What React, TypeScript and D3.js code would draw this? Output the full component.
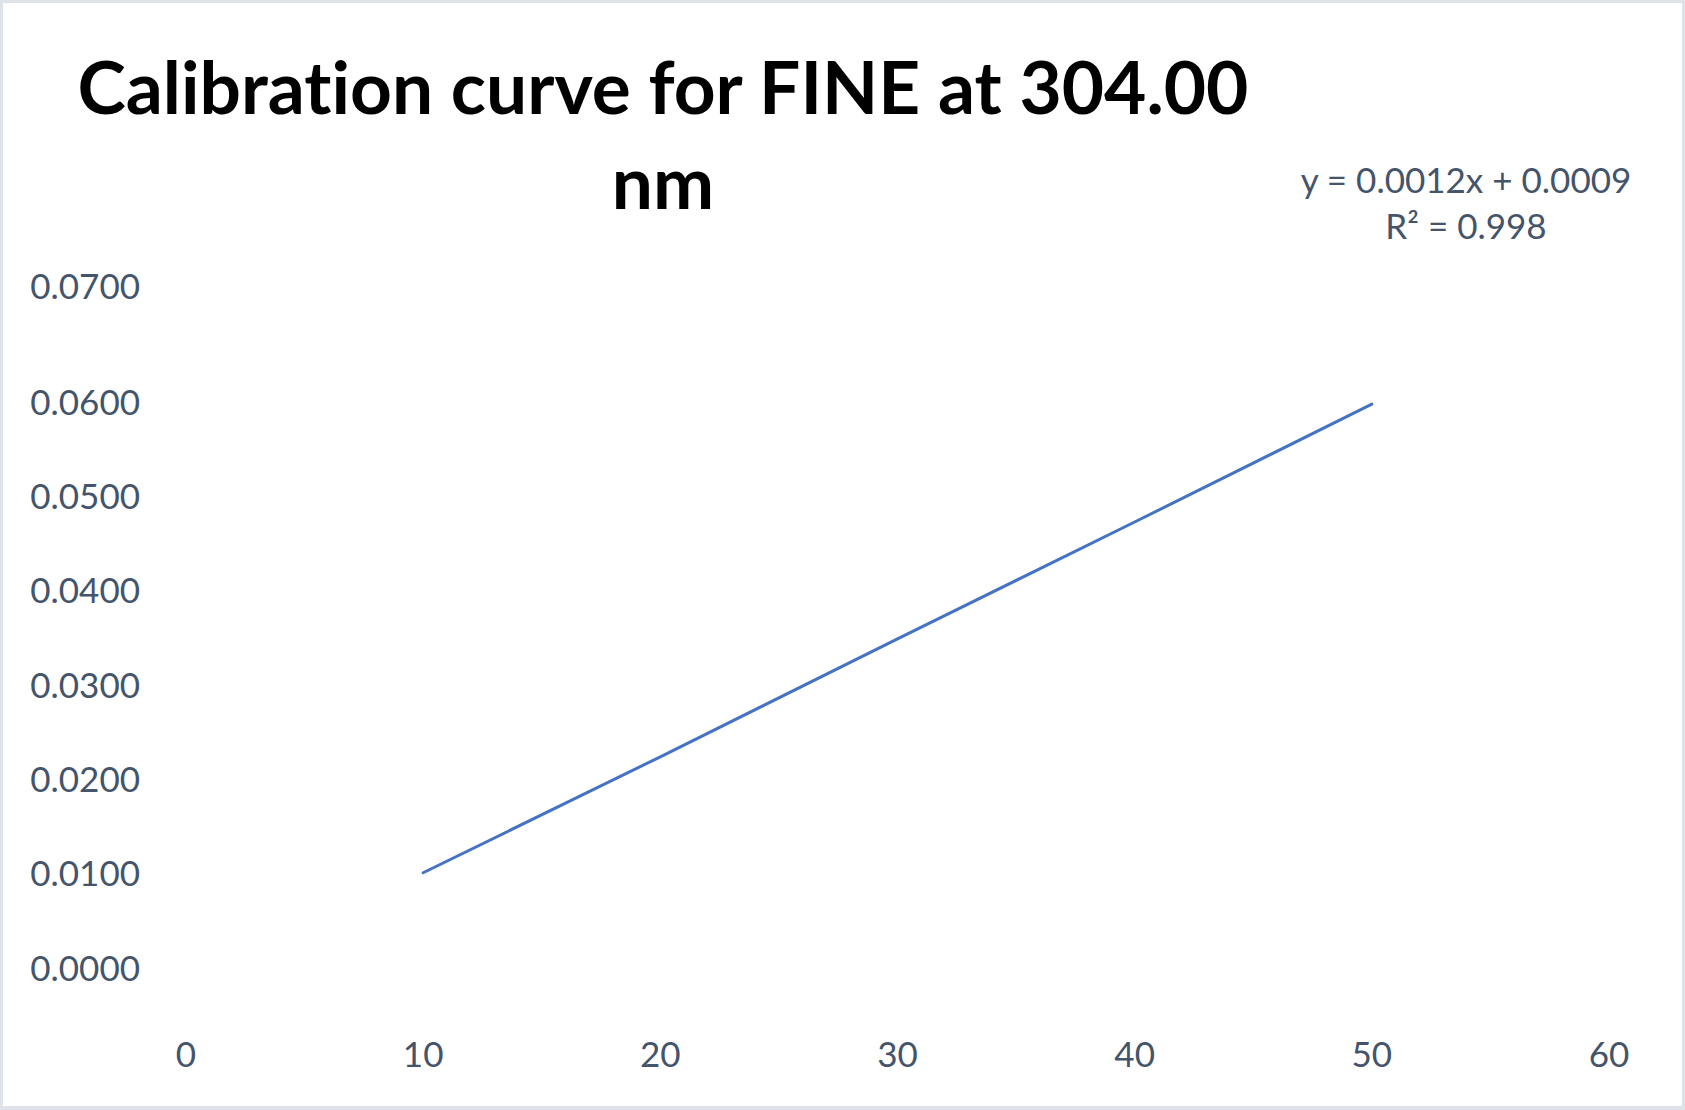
import { useEffect, useRef } from 'react';
import * as d3 from 'd3';

const W = 1685, H = 1110;

const concentration = [10, 20, 30, 40, 50];
const absorbance = [0.0101, 0.0224, 0.0349, 0.0473, 0.0598];

const xTicks = [0, 10, 20, 30, 40, 50, 60];
const yTicks = [0, 0.01, 0.02, 0.03, 0.04, 0.05, 0.06, 0.07];

const titleLines = ['Calibration curve for FINE at 304.00', 'nm'];
const equationLines = ['y = 0.0012x + 0.0009', 'R² = 0.998'];

export default function App() {
  const svgRef = useRef<SVGSVGElement>(null);

  useEffect(() => {
    const svg = d3.select(svgRef.current);
    svg.selectAll('*').remove();

    const font = 'Lato, "Open Sans", sans-serif';
    const textColor = '#44546a';

    // frame
    svg.append('rect').attr('width', W).attr('height', H).attr('fill', '#dee3ea');
    svg.append('rect').attr('x', 3).attr('y', 3).attr('width', W - 6).attr('height', H - 7).attr('fill', '#fff');

    const x = d3.scaleLinear().domain([0, 60]).range([186, 1609]);
    const y = d3.scaleLinear().domain([0, 0.07]).range([968, 308]);

    // title
    svg.append('g').selectAll('text').data(titleLines).join('text')
      .attr('x', 663).attr('y', (_, i) => 114 + i * 95)
      .attr('text-anchor', 'middle').attr('font-family', font).attr('font-weight', 700)
      .attr('font-size', 73).attr('fill', '#000')
      .style('font-variant-ligatures', 'none')
      .text(d => d);

    // trendline equation
    svg.append('g').selectAll('text').data(equationLines).join('text')
      .attr('x', 1466).attr('y', (_, i) => 193 + i * 46)
      .attr('text-anchor', 'middle').attr('font-family', font)
      .attr('font-size', 35).attr('fill', textColor)
      .text(d => d);

    // y tick labels (top one sits a little higher, as in the source)
    const yMax = y.domain()[1];
    svg.append('g').selectAll('text').data(yTicks).join('text')
      .attr('x', 140)
      .attr('y', d => y(d) + (Math.abs(d - yMax) < 1e-9 ? -22 : 0))
      .attr('dy', '0.36em')
      .attr('text-anchor', 'end').attr('font-family', font)
      .attr('font-size', 35).attr('fill', textColor)
      .text(d => d3.format('.4f')(d));

    // x tick labels
    svg.append('g').selectAll('text').data(xTicks).join('text')
      .attr('x', d => x(d)).attr('y', 1054).attr('dy', '0.36em')
      .attr('text-anchor', 'middle').attr('font-family', font)
      .attr('font-size', 35).attr('fill', textColor)
      .text(d => String(d));

    // series
    const pts = concentration.map((c, i) => [c, absorbance[i]] as [number, number]);
    const line = d3.line<[number, number]>().x(d => x(d[0])).y(d => y(d[1]));
    svg.append('path').datum(pts).attr('d', line)
      .attr('fill', 'none').attr('stroke', '#4472c4').attr('stroke-width', 3)
      .attr('stroke-linejoin', 'round').attr('stroke-linecap', 'round');
  }, []);

  return (
    <svg
      ref={svgRef}
      width={W}
      height={H}
      style={{ position: 'absolute', left: 0, top: 0, display: 'block' }}
    />
  );
}
